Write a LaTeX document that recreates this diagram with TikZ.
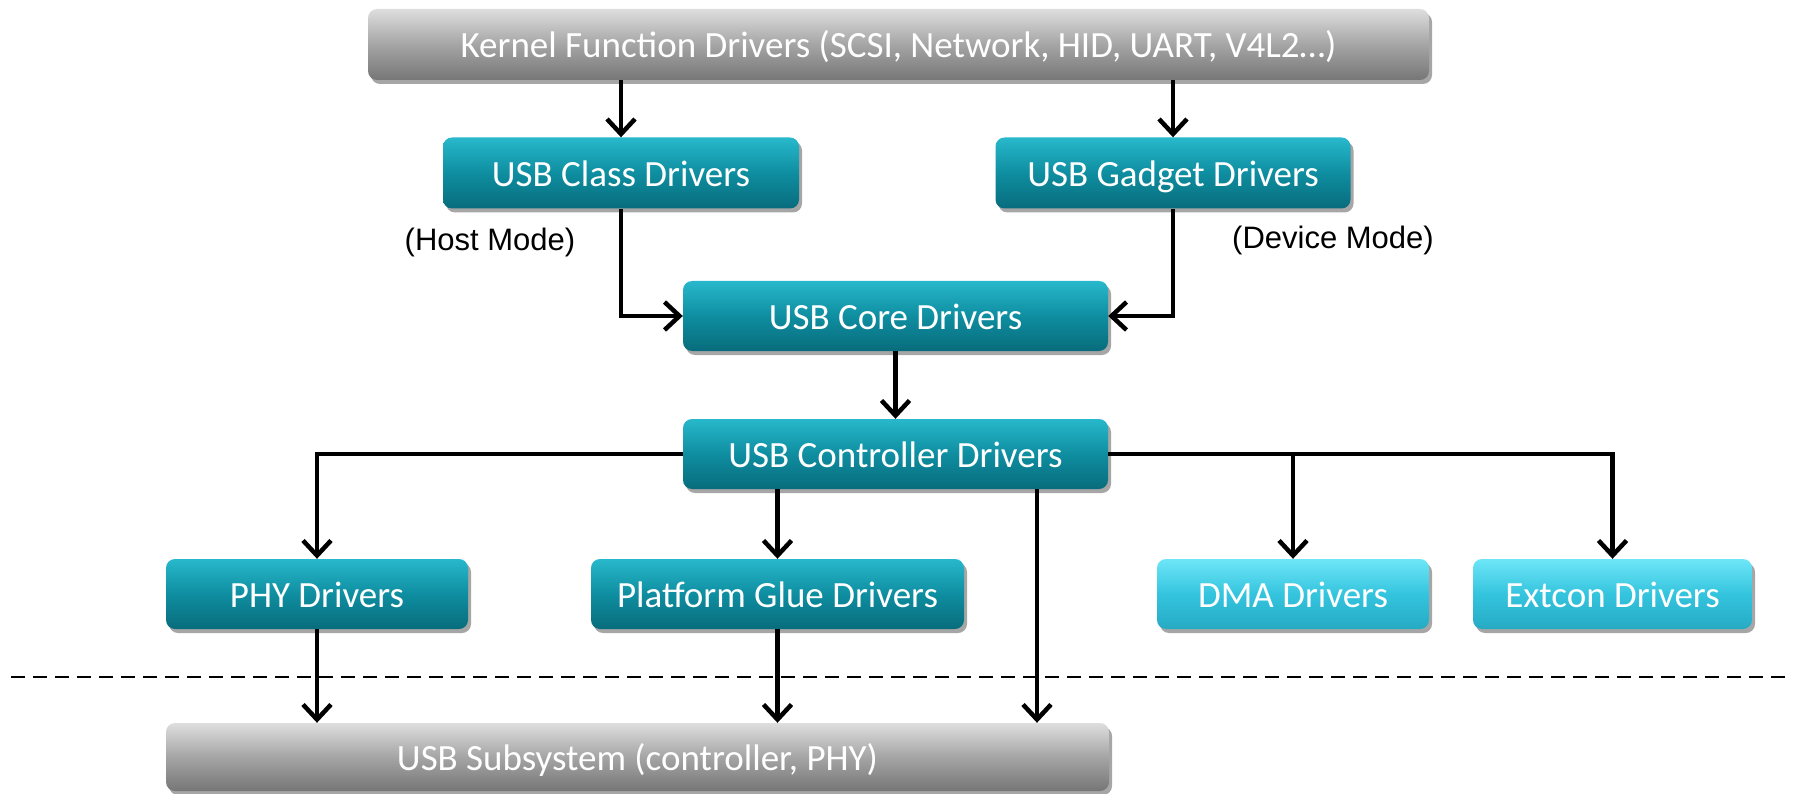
\documentclass[tikz,border=0pt]{standalone}
\usepackage{fontspec}
\setmainfont{Carlito}
\newfontfamily\labelfont{Liberation Sans}
\usetikzlibrary{arrows.meta,shadows}
\definecolor{tealtop}{RGB}{40,184,204}
\definecolor{tealmid}{RGB}{14,142,160}
\definecolor{tealbot}{RGB}{8,108,124}
\definecolor{cyantop}{RGB}{110,230,248}
\definecolor{cyanmid}{RGB}{52,196,222}
\definecolor{cyanbot}{RGB}{38,170,196}
\definecolor{graytop}{RGB}{222,222,222}
\definecolor{graymid}{RGB}{165,165,165}
\definecolor{graybot}{RGB}{118,118,118}
\tikzset{
  basebox/.style={rounded corners=9pt, text=white, inner sep=0pt,
    font=\fontsize{37}{42}\selectfont, text height=30pt, text depth=3pt,
    drop shadow={shadow xshift=3pt, shadow yshift=-4pt, opacity=0.35, fill=black}},
  tealbox/.style={basebox, top color=tealtop, bottom color=tealbot, middle color=tealmid},
  cyanbox/.style={basebox, top color=cyantop, bottom color=cyanbot, middle color=cyanmid},
  graybox/.style={basebox, top color=graytop, bottom color=graybot, middle color=graymid},
  conn/.style={line width=4.5pt, -{Straight Barb[length=15pt,width=28pt,line width=4.5pt]}},
  modelabel/.style={font=\labelfont\fontsize{31}{36}\selectfont, text=black},
  sep/.style={line width=2.5pt, dash pattern=on 14pt off 8pt}
}
\begin{document}
\begin{tikzpicture}[x=1pt,y=-1pt]
\useasboundingbox (0,0) rectangle (1793,794);
\draw[sep] (11,677) -- (1793,677);
\node[graybox, minimum width=1061pt, minimum height=71pt] (kern) at (898.5,44.5) {Kernel Function Drivers (SCSI, Network, HID, UART, V4L2…)};
\node[tealbox, minimum width=356pt, minimum height=71pt] (cls) at (621,173) {USB Class Drivers};
\node[tealbox, minimum width=355pt, minimum height=71pt] (gad) at (1173,173) {USB Gadget Drivers};
\node[modelabel] (host) at (490,242) {(Host Mode)};
\node[modelabel] (dev) at (1333,240) {(Device Mode)};
\node[tealbox, minimum width=425pt, minimum height=70pt] (core) at (895.5,316) {USB Core Drivers};
\node[tealbox, minimum width=425pt, minimum height=70pt] (ctrl) at (895.5,454) {USB Controller Drivers};
\node[tealbox, minimum width=302pt, minimum height=70pt] (phy) at (317,594) {PHY Drivers};
\node[tealbox, minimum width=373pt, minimum height=70pt] (plat) at (777.5,594) {Platform Glue Drivers};
\node[cyanbox, minimum width=272pt, minimum height=70pt] (dma) at (1293,594) {DMA Drivers};
\node[cyanbox, minimum width=279pt, minimum height=70pt] (ext) at (1612.5,594) {Extcon Drivers};
\node[graybox, minimum width=943pt, minimum height=68pt] (sub) at (637.5,757) {USB Subsystem (controller, PHY)};
\coordinate (cx) at (1037,0);
\draw[conn] (kern.south -| cls.north) -- (cls.north);
\draw[conn] (kern.south -| gad.north) -- (gad.north);
\draw[conn] (cls.south) |- (core.west);
\draw[conn] (gad.south) |- (core.east);
\draw[conn] (core.south) -- (ctrl.north);
\draw[conn] (ctrl.west) -| (phy.north);
\draw[conn] (ctrl.south -| plat.north) -- (plat.north);
\draw[conn] (ctrl.east) -| (dma.north);
\draw[conn] (ctrl.east) -| (ext.north);
\draw[conn] (ctrl.south -| cx) -- (sub.north -| cx);
\draw[conn] (phy.south) -- (sub.north -| phy.south);
\draw[conn] (plat.south) -- (sub.north -| plat.south);
\end{tikzpicture}
\end{document}
